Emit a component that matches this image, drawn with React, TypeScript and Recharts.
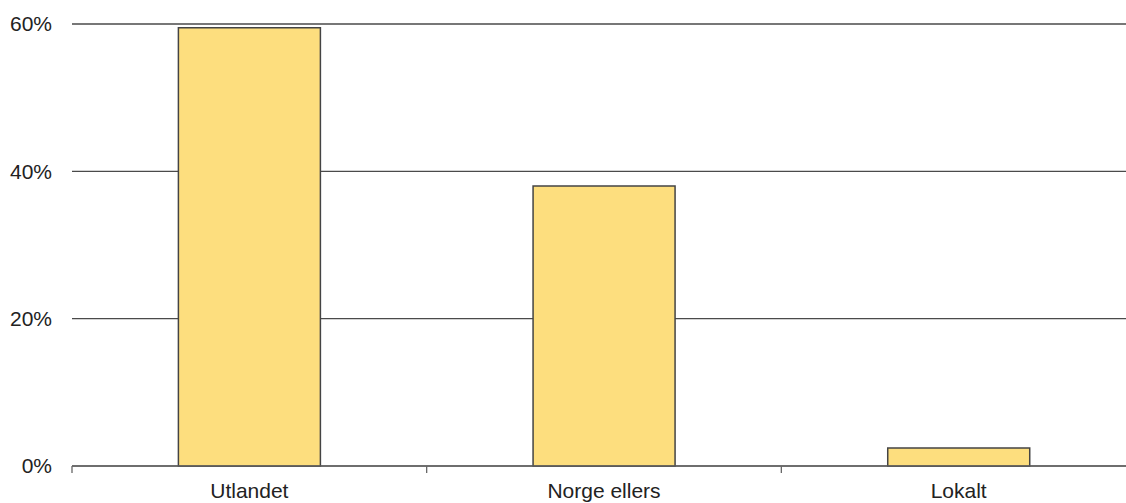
import React from 'react';
import { BarChart, Bar, XAxis, YAxis, CartesianGrid } from 'recharts';

const categories = ['Utlandet', 'Norge ellers', 'Lokalt'];
const shares = [59.5, 38.0, 2.45];
const yTicks = [0, 20, 40, 60];

const data = categories.map((name, i) => ({ name, value: shares[i] }));

const FONT = 'Liberation Sans, Arial, sans-serif';
const GAP = 17;

// category label plus a tick mark at the left edge of its band
const CategoryTick = (props: any) => {
  const { x, y, payload } = props;
  const half = payload && payload.offset ? payload.offset : 0;
  const axisY = y - GAP;
  return (
    <g>
      <line x1={x - half} x2={x - half} y1={axisY} y2={axisY + 7} stroke="#666" strokeWidth={1.3} />
      <text x={x} y={y} dy="0.71em" textAnchor="middle" fill="#222" fontSize={21} fontFamily={FONT}>
        {payload.value}
      </text>
    </g>
  );
};

export default function App() {
  return (
    <div style={{ position: 'absolute', left: 0, top: 0, width: 1126, height: 503, overflow: 'hidden', background: '#fff' }}>
      <BarChart
        width={1136}
        height={503}
        data={data}
        margin={{ top: 24, right: 0, left: 0, bottom: 0 }}
        barCategoryGap="30%"
      >
        <CartesianGrid vertical={false} stroke="#4a4a4a" strokeWidth={1.3} />
        <XAxis
          dataKey="name"
          height={37}
          stroke="#666"
          tickLine={false}
          tickSize={0}
          tickMargin={GAP}
          tick={<CategoryTick />}
        />
        <YAxis
          width={72}
          domain={[0, 60]}
          ticks={yTicks}
          axisLine={false}
          tickLine={false}
          tickSize={0}
          tickMargin={20}
          tickFormatter={(v: number) => `${v}%`}
          tick={{ fill: '#222', fontSize: 21, fontFamily: FONT }}
        />
        <Bar dataKey="value" fill="#FDDE7E" stroke="#444" strokeWidth={1.5} isAnimationActive={false} />
      </BarChart>
    </div>
  );
}
